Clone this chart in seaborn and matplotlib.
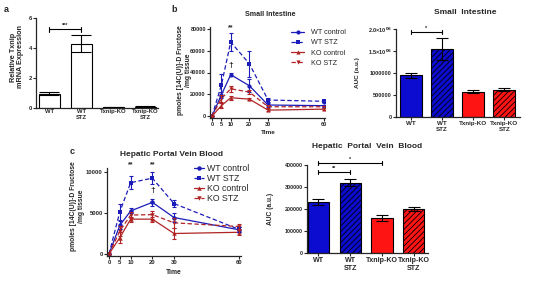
import numpy as np
import pandas as pd
import matplotlib
matplotlib.use('Agg')
import matplotlib.pyplot as plt
import seaborn as sns

# ---- data ----
groups = ['WT', 'WT\nSTZ', 'Txnip-KO', 'Txnip-KO\nSTZ']

# a: relative Txnip mRNA
mrna = [0.95, 4.3, 0.05, 0.1]
mrna_err = [0.1, 0.55, 0.03, 0.05]

# time course (min)
times = [0, 5, 10, 20, 30, 60]
series = ['WT control', 'WT STZ', 'KO control', 'KO STZ']

# b: small intestine
si_wt_ctrl = [0, 19500, 38000, 27800, 10100, 9500]
si_wt_stz = [0, 28500, 68000, 48000, 14700, 13500]
si_ko_ctrl = [0, 9500, 16800, 15500, 5400, 6300]
si_ko_stz = [0, 16000, 25000, 22000, 8500, 8500]
si_wt_ctrl_err = [0, 3000, 1500, 6000, 1500, 1000]
si_wt_stz_err = [0, 10000, 8000, 12000, 1500, 1500]
si_ko_ctrl_err = [0, 2000, 2000, 1000, 1000, 800]
si_ko_stz_err = [0, 3000, 3000, 2000, 1500, 1000]
si_auc = [950000, 1550000, 570000, 625000]
si_auc_err = [60000, 250000, 35000, 35000]

# c: hepatic portal vein blood
hp_wt_ctrl = [0, 3500, 5250, 6300, 4450, 2950]
hp_wt_stz = [0, 5150, 8700, 9250, 6150, 3000]
hp_ko_ctrl = [0, 2000, 4250, 4250, 2500, 2650]
hp_ko_stz = [0, 2800, 4750, 4800, 3800, 3350]
hp_wt_ctrl_err = [0, 500, 300, 400, 500, 300]
hp_wt_stz_err = [0, 1000, 800, 700, 400, 300]
hp_ko_ctrl_err = [0, 700, 300, 300, 700, 300]
hp_ko_stz_err = [0, 600, 400, 500, 600, 300]
hp_auc = [232000, 320000, 160000, 200000]
hp_auc_err = [13000, 17000, 14000, 8000]

# ---- style ----
sns.set_style('ticks')
plt.rcParams['font.family'] = ['Liberation Sans', 'DejaVu Sans']
plt.rcParams['font.weight'] = 'bold'
plt.rcParams['axes.labelweight'] = 'bold'
plt.rcParams['mathtext.default'] = 'bf'
plt.rcParams['hatch.linewidth'] = 0.6

blue, red = '#0c0cd0', '#ff1414'
line_blue, line_red = '#1c1cb8', '#b02424'
line_colors = {'WT control': line_blue, 'WT STZ': line_blue,
               'KO control': line_red, 'KO STZ': line_red}
line_markers = {'WT control': 'o', 'WT STZ': 's', 'KO control': '^', 'KO STZ': 'v'}
line_dashes = {'WT control': '', 'WT STZ': (3.5, 2), 'KO control': '', 'KO STZ': (3.5, 2)}

W, H = 538, 282
fig = plt.figure(figsize=(W / 100, H / 100), dpi=100)


def px_axes(l, t, r, b):
    return fig.add_axes([l / W, 1 - b / H, (r - l) / W, (b - t) / H])


def ftext(x, y, s, **kw):
    fig.text(x / W, 1 - y / H, s, ha='center', va='center', **kw)


def style(ax, fs):
    sns.despine(ax=ax)
    for s in ('left', 'bottom'):
        ax.spines[s].set_linewidth(0.9)
    ax.tick_params(length=2, width=0.8, labelsize=fs, pad=1)
    ax.set_xlabel('')
    ax.set_ylabel('')


def bar_panel(ax, values, errors, colors, width, capsize, hatch):
    df = pd.DataFrame({'group': groups, 'value': values})
    sns.barplot(data=df, x='group', y='value', hue='group', palette=colors,
                legend=False, errorbar=None, width=width, saturation=1,
                edgecolor='black', linewidth=0.8, ax=ax)
    if hatch:
        for i, p in enumerate(ax.patches):
            if i in (1, 3):
                p.set_hatch('//////')
    ax.errorbar(range(4), values, yerr=errors, fmt='none', ecolor='black',
                elinewidth=0.8, capsize=capsize, capthick=0.8, zorder=1)


def line_panel(ax, vals, errs, msize):
    rows = []
    for name, v in zip(series, vals):
        for t, y in zip(times, v):
            rows.append({'Time': t, 'value': y, 'group': name})
    df = pd.DataFrame(rows)
    sns.lineplot(data=df, x='Time', y='value', hue='group', style='group',
                 palette=line_colors, markers=line_markers, dashes=line_dashes,
                 errorbar=None, linewidth=0.9, markersize=msize,
                 markeredgewidth=0, ax=ax)
    for name, v, e in zip(series, vals, errs):
        ax.errorbar(times, v, yerr=e, fmt='none', ecolor=line_colors[name],
                    elinewidth=0.8, capsize=1.6, capthick=0.8)
    ax.set_xticks(times)


def bracket(ax, x1, x2, y, h, text, fs):
    kw = dict(color='black', lw=0.8, clip_on=False)
    ax.plot([x1, x2], [y, y], **kw)
    ax.plot([x1, x1], [y - h, y + h], **kw)
    ax.plot([x2, x2], [y - h, y + h], **kw)
    ax.text((x1 + x2) / 2, y + h * 0.6, text, ha='center', va='bottom', fontsize=fs)


# ---- panel a ----
ax = px_axes(36, 18, 158, 108)
bar_panel(ax, mrna, mrna_err, ['white'] * 4, 0.66, 7, False)
ax.set_ylim(0, 6)
ax.set_xlim(-0.42, 3.4)
ax.set_yticks([0, 2, 4, 6])
style(ax, 4.2)
ax.tick_params(axis='x', length=0)
bracket(ax, 0, 1, 5.25, 0.15, '***', 4)
ftext(17, 57, 'Relative Txnip\nmRNA Expression', rotation=90, fontsize=5.2, linespacing=1.1)

# ---- panel b line ----
ax = px_axes(210, 27, 325, 118)
line_panel(ax, [si_wt_ctrl, si_wt_stz, si_ko_ctrl, si_ko_stz],
           [si_wt_ctrl_err, si_wt_stz_err, si_ko_ctrl_err, si_ko_stz_err], 3)
ax.set_xlim(-1.1, 60.5)
ax.set_ylim(-1840, 81840)
ax.set_yticks([0, 20000, 40000, 60000, 80000])
style(ax, 4)
h, l = ax.get_legend_handles_labels()
ax.legend(h, l, loc='upper left', bbox_to_anchor=(291 / W, 1 - 29 / H),
          bbox_transform=fig.transFigure, frameon=False, borderpad=0,
          borderaxespad=0, handlelength=1.8, handletextpad=1.0, labelspacing=0.45,
          prop={'size': 5.2, 'weight': 'normal'})
ax.text(10, 81000, '**', ha='center', va='center', fontsize=5)
ax.text(10, 46500, '\u2020', ha='center', va='center', fontsize=6)
ftext(268, 133, 'Time', fontsize=4.6)
ftext(270, 15, 'Small Intestine', fontsize=5.1)
ftext(184.5, 70, 'pmoles [14C(U)]-D Fructose\n/mg tissue', rotation=90, fontsize=4.9, linespacing=1.0)

# ---- panel b bar ----
ax = px_axes(396, 29, 520, 117)
bar_panel(ax, si_auc, si_auc_err, [blue, blue, red, red], 0.71, 4.2, True)
ax.set_ylim(0, 2e6)
ax.set_xlim(-0.48, 3.5)
ax.set_yticks([0, 500000, 1000000, 1500000, 2000000])
ax.set_yticklabels(['0', '500000', '1000000', r'1.5×10$^{06}$', r'2.0×10$^{06}$'])
style(ax, 4)
ax.tick_params(axis='x', labelsize=4.5)
bracket(ax, 0, 1, 1.93e6, 0.045e6, '*', 4)
ftext(357, 73, 'AUC (a.u.)', rotation=90, fontsize=4.6)
ftext(465, 13, 'Small  Intestine', fontsize=6)

# ---- panel c line ----
ax = px_axes(107, 168, 241, 256)
line_panel(ax, [hp_wt_ctrl, hp_wt_stz, hp_ko_ctrl, hp_ko_stz],
           [hp_wt_ctrl_err, hp_wt_stz_err, hp_ko_ctrl_err, hp_ko_stz_err], 3.2)
ax.set_xlim(-0.92, 60.9)
ax.set_ylim(-244, 10488)
ax.set_yticks([0, 5000, 10000])
style(ax, 4.2)
h, l = ax.get_legend_handles_labels()
ax.legend(h, l, loc='upper left', bbox_to_anchor=(194 / W, 1 - 164 / H),
          bbox_transform=fig.transFigure, frameon=False, borderpad=0,
          borderaxespad=0, handlelength=1.1, handletextpad=0.35, labelspacing=0.1,
          prop={'size': 6.3, 'weight': 'normal'})
ax.text(10, 10850, '**', ha='center', va='center', fontsize=5)
ax.text(20, 10850, '**', ha='center', va='center', fontsize=5)
ax.text(20, 7800, '\u2020', ha='center', va='center', fontsize=6)
ftext(174, 272, 'Time', fontsize=4.9)
ftext(171, 155, 'Hepatic Portal Vein Blood', fontsize=6)
ftext(77.5, 206, 'pmoles [14C(U)]-D Fructose\n/mg tissue', rotation=90, fontsize=4.9, linespacing=1.1)

# ---- panel c bar ----
ax = px_axes(307, 165, 428, 253)
bar_panel(ax, hp_auc, hp_auc_err, [blue, blue, red, red], 0.66, 4, True)
ax.set_ylim(0, 400000)
ax.set_xlim(-0.35, 3.44)
ax.set_yticks([0, 100000, 200000, 300000, 400000])
style(ax, 3.9)
ax.tick_params(axis='x', labelsize=5.1)
bracket(ax, 0, 1, 368000, 9000, '**', 4)
bracket(ax, 0, 2, 409000, 9000, '*', 4)
ftext(271, 209, 'AUC (a.u.)', rotation=90, fontsize=4.8)
ftext(367, 147, 'Hepatic  Portal  Vein  Blood', fontsize=6)

# panel letters
ftext(6, 9, 'a', fontsize=6.5)
ftext(174, 10, 'b', fontsize=6.5)
ftext(72, 152, 'c', fontsize=6.5)

fig.savefig('out.png', dpi=100)
